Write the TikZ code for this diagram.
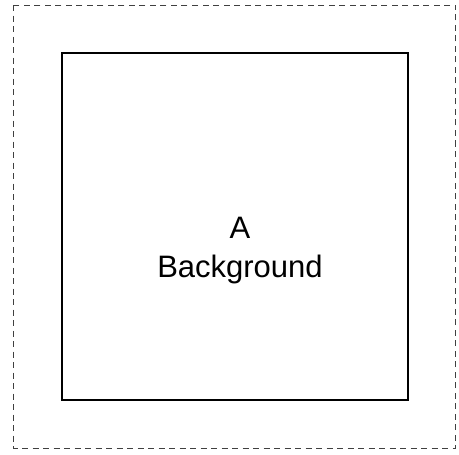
\documentclass[tikz,border=0pt]{standalone}
\usepackage{fontspec}
\setmainfont{Liberation Sans}
\tikzset{
  outerbox/.style={draw=black!75, dash pattern=on 6pt off 4.5pt, line width=0.9pt},
  innerbox/.style={draw=black, line width=1.6pt},
  labeltext/.style={font=\fontsize{31}{39}\selectfont, align=center},
}
\begin{document}
\begin{tikzpicture}[x=1pt,y=-1pt]
  \useasboundingbox (0,0) rectangle (459,455);
  \draw[outerbox] (13.5,5) rectangle (455.5,448);
  \draw[innerbox] (62,53) rectangle (408,400);
  \node[labeltext] (bg) at (240,251) {A\\Background};
\end{tikzpicture}
\end{document}
